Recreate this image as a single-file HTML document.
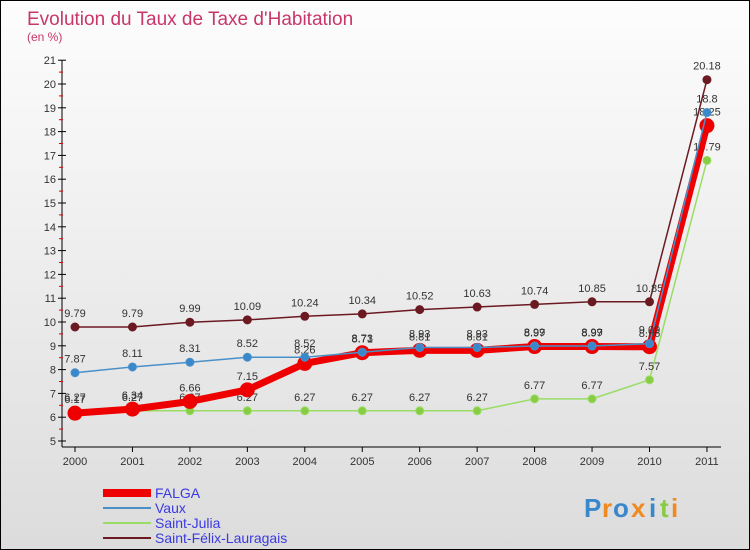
<!DOCTYPE html>
<html><head><meta charset="utf-8"><style>
body{margin:0}
#c{width:750px;height:550px;position:relative;box-sizing:border-box;border:1px solid #000;background:linear-gradient(#fdfdfd,#dcdcdc);font-family:"Liberation Sans",sans-serif;overflow:hidden}
</style></head><body>
<div id="c">
<svg id="s" width="750" height="550"></svg>
</div>
<script>
const years=["2000","2001","2002","2003","2004","2005","2006","2007","2008","2009","2010","2011"];
const falga=[6.17,6.34,6.66,7.15,8.26,8.71,8.81,8.81,8.97,8.97,8.96,18.25];
const vaux=[7.87,8.11,8.31,8.52,8.52,8.73,8.93,8.93,8.99,8.99,9.09,18.8];
const julia=[6.27,6.27,6.27,6.27,6.27,6.27,6.27,6.27,6.77,6.77,7.57,16.79];
const felix=[9.79,9.79,9.99,10.09,10.24,10.34,10.52,10.63,10.74,10.85,10.85,20.18];
const yTicks=[5,6,7,8,9,10,11,12,13,14,15,16,17,18,19,20,21];
const s=document.getElementById('s');const NS='http://www.w3.org/2000/svg';
function el(t,a,txt){const e=document.createElementNS(NS,t);for(const k in a)e.setAttribute(k,a[k]);if(txt!==undefined)e.textContent=txt;s.appendChild(e);return e;}
const X=i=>74+i*57.45, Y=v=>321-(v-10)*23.8;
let e=el('text',{x:26,y:24,fill:'#c8366a','font-size':19},'Evolution du Taux de Taxe d\'Habitation');

e=el('text',{x:26,y:40,fill:'#c8366a','font-size':12},'(en %)');

e=el('line',{x1:61,y1:59,x2:61,y2:446,stroke:'#000'});
e=el('line',{x1:61,y1:446,x2:720,y2:446,stroke:'#000'});
yTicks.forEach(v=>{const y=Y(v);
e=el('line',{x1:57,y1:y,x2:65,y2:y,stroke:'#000'});
e=el('text',{x:55,y:y+4,'text-anchor':'end','font-size':11,fill:'#333'},v);
if(v<21){e=el('line',{x1:58,y1:y-11.9,x2:62,y2:y-11.9,stroke:'#d00'});}});
years.forEach((t,i)=>{e=el('line',{x1:X(i),y1:446,x2:X(i),y2:451,stroke:'#000'});
e=el('text',{x:X(i),y:464,'text-anchor':'middle','font-size':11,fill:'#333'},t);});
function series(d,col,dot,w,r,name){
e=el('polyline',{points:d.map((v,i)=>X(i)+','+Y(v)).join(' '),fill:'none',stroke:col,'stroke-width':w,'stroke-linejoin':'round'});

d.forEach((v,i)=>{e=el('circle',{cx:X(i),cy:Y(v),r:r,fill:dot,stroke:col,'stroke-width':1});
e=el('text',{x:X(i),y:Y(v)-10,'text-anchor':'middle','font-size':11,fill:'#333'},v);});}
series(felix,'#6b1a22','#6b1a22',1.5,4,'saint-felix');
series(julia,'#99dd66','#88cc44',1.5,4,'saint-julia');
series(falga,'#ee0000','#ee0000',7,7,'falga');
series(vaux,'#4a90c8','#3a88cc',1.5,4,'vaux');
const leg=[['FALGA','#ee0000',8],['Vaux','#4a90c8',2],['Saint-Julia','#99dd66',2],['Saint-Félix-Lauragais','#6b1a22',2]];
leg.forEach((l,i)=>{const y=492+i*15;
e=el('line',{x1:102,y1:y,x2:150,y2:y,stroke:l[1],'stroke-width':l[2]});
e=el('text',{x:154,y:y+5,'font-size':14,fill:'#3a3ae0'},l[0]);});
const logo=[['P','#3a88cc'],['r','#f08a20'],['o','#3a88cc'],['x','#f08a20'],['i','#3a88cc'],['t','#88cc44'],['i','#f08a20']];
let lx=583;logo.forEach(c=>{e=el('text',{x:lx,y:516,'font-size':26,'font-weight':'bold',fill:c[1]},c[0]);lx+=(c[0]=='i'||c[0]=='t'||c[0]=='r')?11:18;});
</script>
</body></html>
